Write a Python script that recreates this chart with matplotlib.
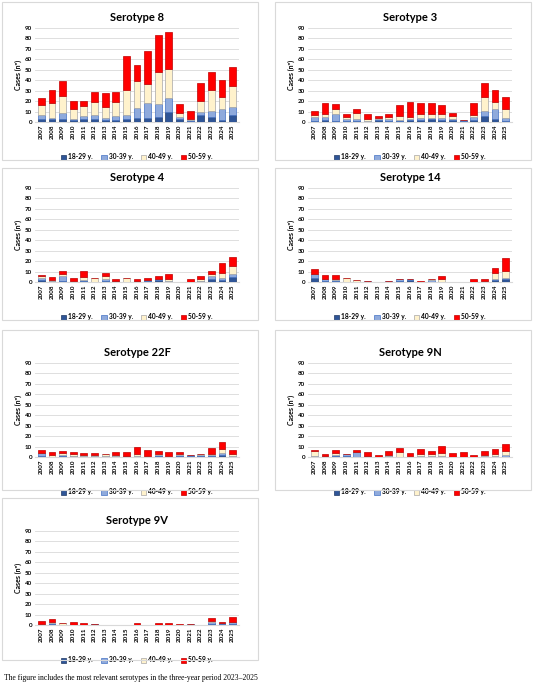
import numpy as np
import matplotlib
matplotlib.use("Agg")
import matplotlib.pyplot as plt
from matplotlib.patches import Rectangle

plt.rcParams['font.family'] = ['Lato', 'DejaVu Sans']

years = [str(y) for y in range(2007, 2026)]
groups = ['18-29 y.', '30-39 y.', '40-49 y.', '50-59 y.']
colors = ['#2F5597', '#8FAADC', '#FFF2CC', '#FF0000']
edges = ['#1F3864', '#4472C4', '#A6A6A6', '#C00000']

# stacked segments per serotype: [18-29, 30-39, 40-49, 50-59] per year
s8 = [[3,3,3,2,3,3,2,2,3,4,4,5,10,3,1,7,5,2,7],
      [4,1,6,1,3,4,2,4,4,9,14,12,13,2,1,3,6,10,7],
      [9,14,16,9,9,12,10,13,24,26,18,31,28,4,1,10,20,12,20],
      [7,13,14,8,5,10,14,10,32,16,32,35,35,8,8,17,17,16,19]]
s3 = [[1,2,1,1,1,0,2,1,1,2,2,3,2,2,1,2,6,3,1],
      [4,3,7,2,2,1,1,2,1,1,2,1,2,1,1,3,5,9,3],
      [2,3,4,2,6,2,1,2,4,2,4,4,4,3,0,2,13,7,8],
      [4,10,5,3,3,5,2,3,10,14,10,10,8,3,0,11,13,12,12]]
s4 = [[2,1,1,0,1,0,1,0,0,0,1,2,0,0,0,1,3,2,5],
      [2,0,5,0,1,0,2,1,0,1,1,1,1,0,0,0,3,2,3],
      [2,1,2,1,3,4,3,0,4,0,0,0,2,0,0,2,2,5,7],
      [1,3,3,3,6,0,3,2,0,2,2,3,5,0,3,3,3,9,9]]
s14 = [[4,1,1,0,0,0,0,0,1,2,0,0,0,0,0,0,0,2,3],
       [4,2,1,0,0,1,0,1,2,1,0,2,0,0,0,0,0,1,1],
       [0,0,1,4,2,0,0,0,0,0,0,1,3,0,0,0,1,6,7],
       [4,4,4,0,0,0,0,0,0,0,1,0,3,0,0,3,2,4,12]]
s22f = [[1,0,1,1,0,1,0,1,0,0,0,1,0,1,1,1,1,2,0],
        [3,0,1,0,1,0,1,0,1,1,0,1,0,1,1,1,1,2,1],
        [0,2,2,2,1,1,2,1,0,2,1,1,1,1,0,1,1,4,2],
        [3,3,2,2,2,2,0,3,4,7,6,3,4,2,0,0,6,6,4]]
s9n = [[0,0,1,1,0,0,0,1,0,0,0,0,0,0,0,0,0,0,0],
       [1,1,1,2,5,1,0,0,0,0,1,1,1,0,0,0,1,1,2],
       [5,0,2,0,0,0,0,1,5,1,2,2,3,0,0,0,1,2,4],
       [1,2,3,0,2,4,2,4,4,3,5,3,7,4,5,2,4,5,6]]
s9v = [[0,1,0,0,0,1,0,0,0,0,0,0,0,0,0,0,1,1,1],
       [0,1,0,0,0,0,0,0,0,0,0,0,0,0,1,0,2,1,2],
       [1,1,2,0,0,0,0,0,0,0,0,0,0,0,0,0,1,0,0],
       [3,3,0,3,2,0,0,0,0,2,0,2,2,1,0,0,3,1,5]]

panels = [('Serotype 8', s8), ('Serotype 3', s3), ('Serotype 4', s4),
          ('Serotype 14', s14), ('Serotype 22F', s22f), ('Serotype 9N', s9n),
          ('Serotype 9V', s9v)]

W, H = 533, 685
fig = plt.figure(figsize=(W / 100, H / 100), dpi=100)

# panel boxes (left, top, width, height) in pixels
boxes = [(2, 2, 256, 158), (275, 2, 256, 158),
         (2, 168, 256, 152), (275, 168, 256, 152),
         (2, 330, 256, 160), (275, 330, 256, 160),
         (2, 498, 256, 162)]
plot_off = [(26, 94), (26, 94), (20, 94), (20, 94), (33, 94), (33, 94), (33, 94)]

for (title, data), (bx, by, bw, bh), (ptop, ph) in zip(panels, boxes, plot_off):
    fig.patches.append(Rectangle((bx / W, 1 - (by + bh) / H), bw / W, bh / H,
                                 transform=fig.transFigure, fill=False,
                                 edgecolor='#D9D9D9', linewidth=0.8))
    ax = fig.add_axes([(bx + 33) / W, 1 - (by + ptop + ph) / H, 204 / W, ph / H])
    x = np.arange(len(years))
    bottom = np.zeros(len(years))
    for vals, c, e, lab in zip(data, colors, edges, groups):
        ax.bar(x, vals, 0.65, bottom=bottom, color=c, edgecolor=e,
               linewidth=0.5, label=lab, zorder=3)
        bottom += np.array(vals)
    ax.set_ylim(0, 90)
    ax.set_xlim(-0.6, len(years) - 0.4)
    ax.set_yticks(range(0, 91, 10))
    ax.set_xticks(x)
    ax.set_xticklabels(years, rotation=90, fontsize=4.5, fontweight='bold')
    ax.tick_params(axis='y', labelsize=4.5, length=0, pad=2)
    ax.tick_params(axis='x', length=0, pad=2)
    for t in ax.get_yticklabels():
        t.set_fontweight('bold')
    ax.grid(axis='y', color='#D9D9D9', linewidth=0.6, zorder=0)
    for s in ['top', 'right', 'left']:
        ax.spines[s].set_visible(False)
    ax.spines['bottom'].set_color('#D9D9D9')
    ax.set_ylabel('Cases (nº)', fontsize=5, fontweight='bold', labelpad=2)
    ax.set_title(title, fontsize=8, fontweight='bold', pad=5)
    ax.legend(loc='upper center', bbox_to_anchor=(0.5, -0.27), ncol=4,
              frameon=False, fontsize=4.8, handlelength=0.8, handleheight=0.8,
              columnspacing=1.2, handletextpad=0.3,
              prop={'weight': 'bold', 'size': 4.8})

fig.text(4 / W, 1 - 678 / H,
         'The figure includes the most relevant serotypes in the three-year period 2023\u20132025',
         fontsize=5.5, family=['Liberation Serif', 'DejaVu Serif'], va='center')

fig.savefig('out.png', dpi=100, facecolor='white')
